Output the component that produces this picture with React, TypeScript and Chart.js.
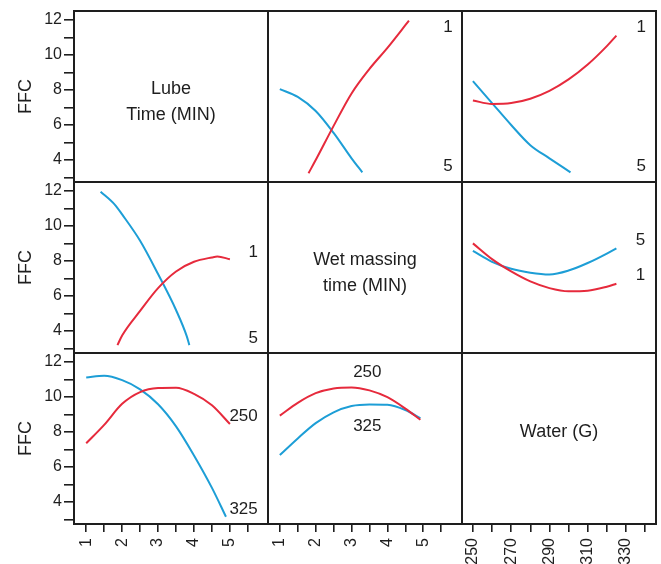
import { useEffect, useRef } from 'react';
import { Chart, registerables } from 'chart.js';

Chart.register(...registerables);

const RED = '#e62a3c';
const BLUE = '#1d9ed6';
const INK = '#1e1e1e';
const FONT = "'Liberation Sans', Arial, Helvetica, sans-serif";

// Tick positions for each factor axis and for the response axis
const lubeTicks = [1, 1.5, 2, 2.5, 3, 3.5, 4, 4.5, 5, 5.5];
const wetTicks = [1, 1.5, 2, 2.5, 3, 3.5, 4, 4.5, 5, 5.5];
const waterTicks = [250, 260, 270, 280, 290, 300, 310, 320, 330, 340];
const waterLabelled = [250, 270, 290, 310, 330];
const ffcTicks = [3, 4, 5, 6, 7, 8, 9, 10, 11, 12];

// Factor names shown on the diagonal
const lubeName = ['Lube', 'Time (MIN)'];
const wetName = ['Wet massing', 'time (MIN)'];
const waterName = ['Water (G)'];

// Lube time levels (1, 5) plotted against wet massing time
const wetX_lube1 = [1.8, 2.0, 2.5, 3.0, 3.5, 4.0, 4.6];
const ffcLube1ByWet = [3.25, 4.0, 5.95, 7.8, 9.2, 10.4, 11.95];
const wetX_lube5 = [1.0, 1.5, 2.0, 2.5, 3.0, 3.3];
const ffcLube5ByWet = [8.05, 7.6, 6.8, 5.55, 4.1, 3.3];

// Lube time levels (1, 5) plotted against water
const waterX_lube1 = [250, 260, 270, 280, 290, 300, 310, 320, 325];
const ffcLube1ByWater = [7.4, 7.2, 7.25, 7.5, 7.95, 8.6, 9.45, 10.5, 11.1];
const waterX_lube5 = [250, 260, 270, 280, 290, 301];
const ffcLube5ByWater = [8.5, 7.25, 6.0, 4.85, 4.1, 3.3];

// Wet massing levels (1, 5) plotted against lube time
const lubeX_wet1 = [1.87, 2.0, 2.5, 3.0, 3.5, 4.0, 4.5, 4.65, 5.0];
const ffcWet1ByLube = [3.2, 3.75, 5.15, 6.45, 7.4, 7.95, 8.2, 8.25, 8.1];
const lubeX_wet5 = [1.4, 1.8, 2.0, 2.5, 3.0, 3.5, 3.8, 3.87];
const ffcWet5ByLube = [11.95, 11.2, 10.65, 9.15, 7.25, 5.2, 3.7, 3.2];

// Wet massing levels (1, 5) plotted against water
const waterX_wet = [250, 260, 270, 280, 290, 300, 310, 320, 325];
const ffcWet1ByWater = [9.0, 8.1, 7.4, 6.83, 6.45, 6.27, 6.3, 6.53, 6.7];
const ffcWet5ByWater = [8.57, 7.95, 7.55, 7.33, 7.23, 7.45, 7.88, 8.42, 8.72];

// Water levels (250, 325) plotted against lube time
const lubeX_water250 = [1, 1.5, 2, 2.5, 3, 3.5, 4, 4.5, 5];
const ffcWater250ByLube = [7.35, 8.4, 9.6, 10.27, 10.5, 10.52, 10.17, 9.52, 8.45];
const lubeX_water325 = [1, 1.5, 2, 2.5, 3, 3.5, 4, 4.5, 4.89];
const ffcWater325ByLube = [11.1, 11.2, 10.95, 10.43, 9.58, 8.32, 6.66, 4.81, 3.16];

// Water levels (250, 325) plotted against wet massing time
const wetX_water = [1, 1.5, 2, 2.5, 3, 3.5, 4, 4.5, 4.92];
const ffcWater250ByWet = [8.93, 9.66, 10.21, 10.48, 10.54, 10.37, 9.98, 9.33, 8.69];
const ffcWater325ByWet = [6.68, 7.63, 8.5, 9.12, 9.48, 9.57, 9.55, 9.25, 8.78];

// Level tags printed beside each pair of curves: [text, x, y, xAxis, yAxis]
const levelTags: [string, number, number, string, string][] = [
  ['1', 5.69, 11.55, 'xWet', 'yLube'],
  ['5', 5.69, 3.65, 'xWet', 'yLube'],
  ['1', 338, 11.55, 'xWater', 'yLube'],
  ['5', 338, 3.65, 'xWater', 'yLube'],
  ['1', 5.65, 8.51, 'xLube', 'yWet'],
  ['5', 5.65, 3.59, 'xLube', 'yWet'],
  ['5', 337.6, 9.18, 'xWater', 'yWet'],
  ['1', 337.6, 7.17, 'xWater', 'yWet'],
  ['250', 5.38, 8.87, 'xLube', 'yWater'],
  ['325', 5.38, 3.6, 'xLube', 'yWater'],
  ['250', 3.44, 11.41, 'xWet', 'yWater'],
  ['325', 3.44, 8.34, 'xWet', 'yWater'],
];

const pts = (xs: number[], ys: number[]) => xs.map((x, i) => ({ x, y: ys[i] }));

const series = (xs: number[], ys: number[], color: string, xAxisID: string, yAxisID: string) => ({
  data: pts(xs, ys),
  xAxisID,
  yAxisID,
  borderColor: color,
  backgroundColor: color,
  borderWidth: 2,
  pointRadius: 0,
  fill: false,
  cubicInterpolationMode: 'monotone' as const,
});

const xAxis = (ticks: number[], min: number, max: number, labelled: (v: number) => boolean) => ({
  type: 'linear' as const,
  position: 'bottom' as const,
  stack: 'factors',
  stackWeight: 1,
  min,
  max,
  afterBuildTicks: (s: any) => {
    s.ticks = ticks.map((v) => ({ value: v }));
  },
  afterFit: (s: any) => {
    s.height = 40;
    s.paddingLeft = 0;
    s.paddingRight = 0;
  },
  border: { display: false },
  grid: { drawOnChartArea: false, drawTicks: true, tickLength: 8, color: INK, lineWidth: 1.6 },
  ticks: {
    autoSkip: false,
    minRotation: 90,
    maxRotation: 90,
    padding: 6,
    color: INK,
    font: { family: FONT, size: 16 },
    callback: (v: any) => (labelled(Number(v)) ? String(v) : ''),
  },
});

const yAxis = (weight: number) => ({
  type: 'linear' as const,
  position: 'left' as const,
  stack: 'response',
  stackWeight: 1,
  weight,
  min: 2.75,
  max: 12.5,
  afterBuildTicks: (s: any) => {
    s.ticks = ffcTicks.map((v) => ({ value: v }));
  },
  afterFit: (s: any) => {
    s.width = 74;
    s.paddingTop = 0;
    s.paddingBottom = 0;
  },
  border: { display: false },
  grid: { drawOnChartArea: false, drawTicks: true, tickLength: 10, color: INK, lineWidth: 1.6 },
  title: {
    display: true,
    text: 'FFC',
    color: INK,
    font: { family: FONT, size: 18 },
    padding: { top: 15, bottom: 0 },
  },
  ticks: {
    autoSkip: false,
    padding: 2,
    color: INK,
    font: { family: FONT, size: 16 },
    callback: (v: any) => (Number(v) % 2 === 0 ? String(v) : ''),
  },
});

const panelPlugin = {
  id: 'panelFrame',
  afterDatasetsDraw(chart: any) {
    const { ctx, chartArea: a, scales } = chart;
    ctx.save();
    ctx.strokeStyle = INK;
    ctx.lineWidth = 2;
    ctx.beginPath();
    ctx.rect(a.left, a.top, a.right - a.left, a.bottom - a.top);
    for (const id of ['xLube', 'xWet']) {
      const s = scales[id];
      ctx.moveTo(s.right, a.top);
      ctx.lineTo(s.right, a.bottom);
    }
    for (const id of ['yLube', 'yWet']) {
      const s = scales[id];
      ctx.moveTo(a.left, s.bottom);
      ctx.lineTo(a.right, s.bottom);
    }
    ctx.stroke();

    // factor names on the diagonal
    ctx.fillStyle = INK;
    ctx.textAlign = 'center';
    ctx.textBaseline = 'middle';
    ctx.font = `18px ${FONT}`;
    const diag: [string, string, string[]][] = [
      ['xLube', 'yLube', lubeName],
      ['xWet', 'yWet', wetName],
      ['xWater', 'yWater', waterName],
    ];
    for (const [xi, yi, lines] of diag) {
      const sx = scales[xi];
      const sy = scales[yi];
      const cx = (sx.left + sx.right) / 2;
      const h = sy.bottom - sy.top;
      const cy = lines.length > 1 ? sy.top + h * 0.535 : sy.top + h * 0.465;
      const gap = 26;
      lines.forEach((t, i) => {
        ctx.fillText(t, cx, cy + (i - (lines.length - 1) / 2) * gap);
      });
    }

    // level tags beside the curves
    ctx.font = `17px ${FONT}`;
    for (const [t, x, y, xi, yi] of levelTags) {
      ctx.fillText(t, scales[xi].getPixelForValue(x), scales[yi].getPixelForValue(y));
    }
    ctx.restore();
  },
};

export default function App() {
  const ref = useRef<HTMLCanvasElement | null>(null);

  useEffect(() => {
    if (!ref.current) return;
    const chart = new Chart(ref.current, {
      type: 'line',
      data: {
        datasets: [
          series(wetX_lube1, ffcLube1ByWet, RED, 'xWet', 'yLube'),
          series(wetX_lube5, ffcLube5ByWet, BLUE, 'xWet', 'yLube'),
          series(waterX_lube1, ffcLube1ByWater, RED, 'xWater', 'yLube'),
          series(waterX_lube5, ffcLube5ByWater, BLUE, 'xWater', 'yLube'),
          series(lubeX_wet1, ffcWet1ByLube, RED, 'xLube', 'yWet'),
          series(lubeX_wet5, ffcWet5ByLube, BLUE, 'xLube', 'yWet'),
          series(waterX_wet, ffcWet1ByWater, RED, 'xWater', 'yWet'),
          series(waterX_wet, ffcWet5ByWater, BLUE, 'xWater', 'yWet'),
          series(lubeX_water250, ffcWater250ByLube, RED, 'xLube', 'yWater'),
          series(lubeX_water325, ffcWater325ByLube, BLUE, 'xLube', 'yWater'),
          series(wetX_water, ffcWater250ByWet, RED, 'xWet', 'yWater'),
          series(wetX_water, ffcWater325ByWet, BLUE, 'xWet', 'yWater'),
        ],
      },
      options: {
        responsive: false,
        animation: false,
        layout: { padding: { top: 11, right: 5, left: 0, bottom: 0 } },
        plugins: { legend: { display: false }, tooltip: { enabled: false } },
        scales: {
          xLube: xAxis(lubeTicks, 0.66, 6.06, (v) => Number.isInteger(v)),
          xWet: xAxis(wetTicks, 0.67, 6.08, (v) => Number.isInteger(v)),
          xWater: xAxis(waterTicks, 244.3, 345.7, (v) => waterLabelled.includes(v)),
          yLube: yAxis(2),
          yWet: yAxis(1),
          yWater: yAxis(0),
        },
      },
      plugins: [panelPlugin],
    });
    return () => chart.destroy();
  }, []);

  return (
    <div style={{ position: 'absolute', left: 0, top: 0, width: 661, height: 564, background: '#fff' }}>
      <canvas ref={ref} width={661} height={564} style={{ display: 'block' }} />
    </div>
  );
}
